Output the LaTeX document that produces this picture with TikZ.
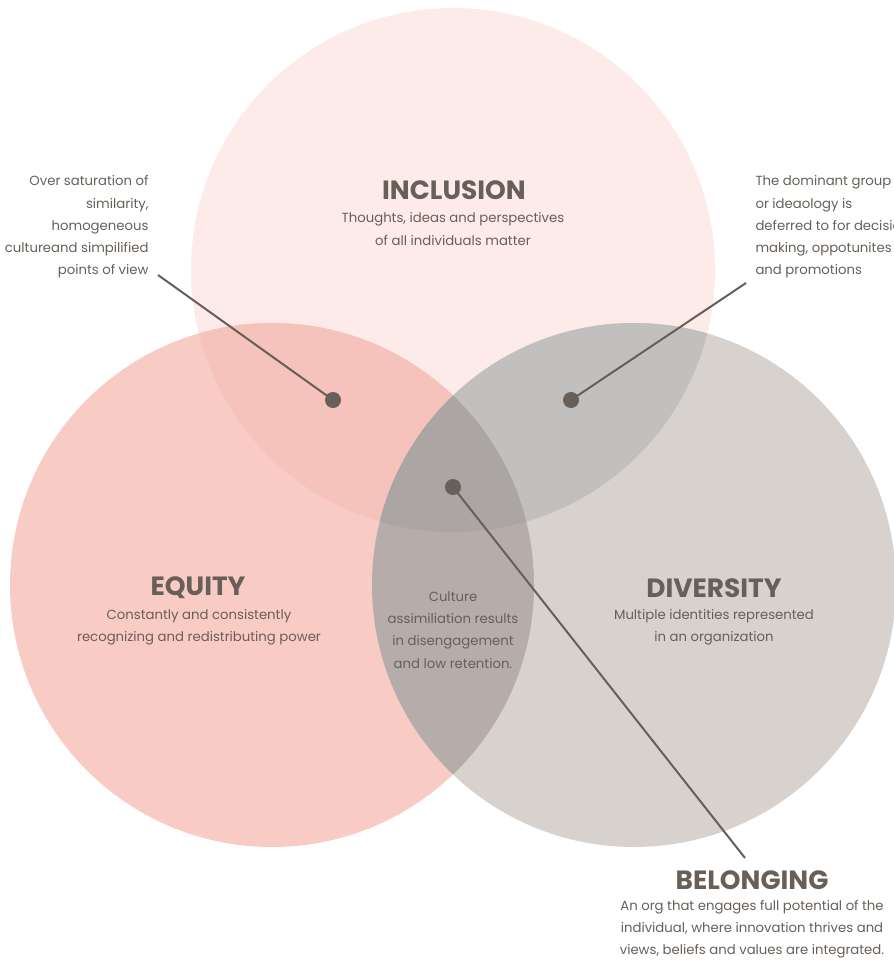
\documentclass[tikz,border=0pt]{standalone}
\usepackage{fontspec}
\setmainfont{Poppins}
\definecolor{inclpink}{HTML}{FCEBE8}
\definecolor{equipink}{HTML}{F9CBC5}
\definecolor{divgrey}{HTML}{D8D2CF}
\definecolor{iemix}{HTML}{F6C2BC}
\definecolor{idmix}{HTML}{C2C0BE}
\definecolor{edmix}{HTML}{B6ADAA}
\definecolor{allmix}{HTML}{ABA6A3}
\definecolor{ink}{HTML}{675F58}
\begin{document}
\begin{tikzpicture}[x=1bp,y=1bp,
  note/.style={text=ink,font=\fontsize{13.3}{22.3}\selectfont},
  head/.style={text=ink,font=\fontsize{26.5}{30}\selectfont\bfseries},
  dot/.style={circle,fill=ink,inner sep=0pt,minimum size=16bp},
  lead/.style={draw=ink,line width=2bp}]
\useasboundingbox (0,0) rectangle (894,-963);
\coordinate (ci) at (453,-270);
\coordinate (ce) at (272,-585);
\coordinate (cd) at (634,-585);
\fill[inclpink] (ci) circle (262);
\fill[equipink] (ce) circle (262);
\fill[divgrey] (cd) circle (262);
\begin{scope}
\clip (ci) circle (262);
\fill[iemix] (ce) circle (262);
\fill[idmix] (cd) circle (262);
\end{scope}
\begin{scope}
\clip (ce) circle (262);
\fill[edmix] (cd) circle (262);
\clip (ci) circle (262);
\fill[allmix] (cd) circle (262);
\end{scope}
\node[head] (incTitle) at (454,-190) {INCLUSION};
\node[note,align=center] (incText) at (453,-229) {Thoughts, ideas and perspectives\\of all individuals matter};
\node[head] (equTitle) at (198,-588) {EQUITY};
\node[note,align=center] (equText) at (199,-627) {Constantly and consistently\\recognizing and redistributing power};
\node[head] (divTitle) at (714,-588) {DIVERSITY};
\node[note,align=center] (divText) at (714,-627) {Multiple identities represented\\in an organization};
\node[note,align=center] (midText) at (453,-630) {Culture\\assimiliation results\\in disengagement\\and low retention.};
\node[head] (belTitle) at (752,-880) {BELONGING};
\node[note,align=center] (belText) at (752,-929) {An org that engages full potential of the\\individual, where innovation thrives and\\views, beliefs and values are integrated.};
\node[note,align=right,anchor=east] (noteL) at (152,-227) {Over saturation of\\similarity,\\homogeneous\\cultureand simpilified\\points of view};
\node[note,align=left,anchor=west] (noteR) at (752,-227) {The dominant group\\or ideaology is\\deferred to for decision\\making, oppotunites\\and promotions};
\node[dot] (dotIE) at (333,-400) {};
\node[dot] (dotID) at (571,-400) {};
\node[dot] (dotAll) at (453,-487) {};
\coordinate (endIE) at (158,-275);
\coordinate (endID) at (746,-283);
\coordinate (endAll) at (745,-858);
\draw[lead] (dotIE.center) -- (endIE);
\draw[lead] (dotID.center) -- (endID);
\draw[lead] (dotAll.center) -- (endAll);
\end{tikzpicture}
\end{document}
